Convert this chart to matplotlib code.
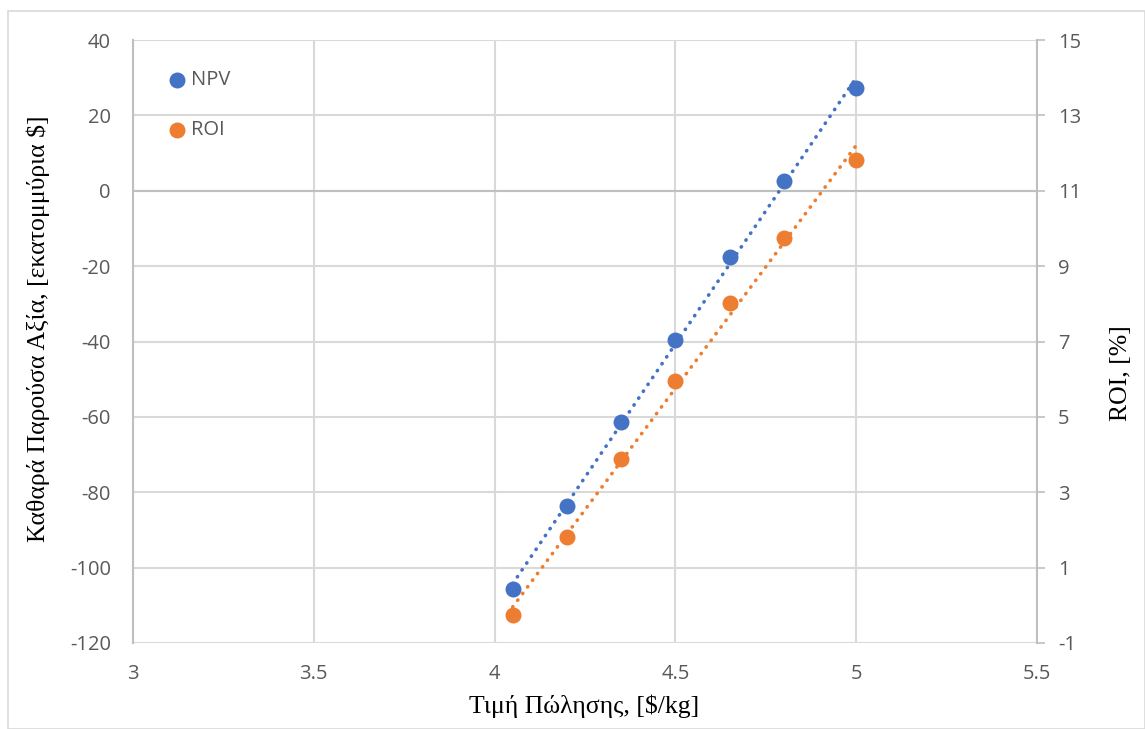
import numpy as np
import matplotlib.pyplot as plt
from matplotlib.patches import Rectangle

plt.rcParams["axes.unicode_minus"] = False

# Selling price scenarios and resulting economics
price = [4.05, 4.2, 4.35, 4.5, 4.65, 4.8, 5.0]
npv = [-105.8, -83.6, -61.3, -39.5, -17.5, 2.7, 27.3]
roi = [-0.26, 1.81, 3.88, 5.95, 8.02, 9.74, 11.81]

x_ticks = [3, 3.5, 4, 4.5, 5, 5.5]
npv_ticks = list(range(-120, 41, 20))
roi_ticks = list(range(-1, 16, 2))

BLUE = "#4472C4"
ORANGE = "#ED7D31"
GRID = "#D9D9D9"
AXIS = "#BFBFBF"
TICK_TXT = "#595959"
tick_font = ["Open Sans", "DejaVu Sans"]
title_font = ["Liberation Serif", "DejaVu Serif"]
TICK_SIZE = 14.5
TITLE_SIZE = 18.5

fig = plt.figure(figsize=(11.45, 7.29), dpi=100)
fig.patches.append(Rectangle((8 / 1145, 0), 1 - 8 / 1145, 1 - 11 / 729,
                             transform=fig.transFigure, fill=False,
                             edgecolor="#D9D9D9", lw=1.2))

ax = fig.add_axes([133 / 1145, 1 - 643 / 729, (1037 - 133) / 1145, (643 - 40) / 729])
ax2 = ax.twinx()

ax.set_xlim(3, 5.5)
ax.set_ylim(-120, 40)
ax2.set_ylim(-1, 15)
ax.set_xticks(x_ticks)
ax.set_xticklabels([f"{v:g}" for v in x_ticks])
ax.set_yticks(npv_ticks)
ax2.set_yticks(roi_ticks)

ax.grid(True, color=GRID, lw=1.5)
ax.set_axisbelow(True)
ax.axhline(0, color=AXIS, lw=1.5, zorder=1)

for s in ["top", "right", "bottom"]:
    ax.spines[s].set_visible(False)
ax.spines["left"].set_color(AXIS)
ax.spines["left"].set_linewidth(1.5)
for s in ["top", "left", "bottom"]:
    ax2.spines[s].set_visible(False)
ax2.spines["right"].set_color(AXIS)
ax2.spines["right"].set_linewidth(1.5)

ax.tick_params(axis="y", length=0, labelsize=TICK_SIZE, labelcolor=TICK_TXT, pad=16)
ax.tick_params(axis="x", length=0, labelsize=TICK_SIZE, labelcolor=TICK_TXT, pad=15)
ax2.tick_params(axis="y", length=6, width=1.2, color=AXIS, labelsize=TICK_SIZE,
                labelcolor=TICK_TXT, pad=9)
for lbl in ax.get_xticklabels() + ax.get_yticklabels() + ax2.get_yticklabels():
    lbl.set_family(tick_font)

# Linear trendlines
xs = np.array([min(price), max(price)])
for vals, axis, col in [(npv, ax, BLUE), (roi, ax2, ORANGE)]:
    k, b = np.polyfit(price, vals, 1)
    axis.plot(xs, k * xs + b, color=col, lw=2.6, linestyle=(0, (0.1, 2.2)),
              dash_capstyle="round", zorder=2)

h1 = ax.scatter(price, npv, s=110, color=BLUE, zorder=3, label="NPV")
h2 = ax2.scatter(price, roi, s=110, color=ORANGE, zorder=3, label="ROI")

leg = ax2.legend([h1, h2], ["NPV", "ROI"], loc="upper left",
                 bbox_to_anchor=(0.0175, 0.98), frameon=False,
                 labelspacing=1.5, handlelength=1.0, handletextpad=0.2,
                 prop={"family": tick_font, "size": TICK_SIZE})
for t in leg.get_texts():
    t.set_color(TICK_TXT)

ax.set_xlabel("Τιμή Πώλησης, [$/kg]", family=title_font, fontsize=TITLE_SIZE)
ax.set_ylabel("Καθαρά Παρούσα Αξία, [εκατομμύρια $]", family=title_font,
              fontsize=TITLE_SIZE)
ax2.set_ylabel("ROI, [%]", family=title_font, fontsize=TITLE_SIZE)
for lab in (ax.xaxis.label, ax.yaxis.label, ax2.yaxis.label):
    lab.set_va("center")
    lab.set_ha("center")
ax.xaxis.set_label_coords(0.499, -0.1045)
ax.yaxis.set_label_coords(-0.105, 0.521)
ax2.yaxis.set_label_coords(1.093, 0.448)

fig.savefig("out.png", dpi=100)
